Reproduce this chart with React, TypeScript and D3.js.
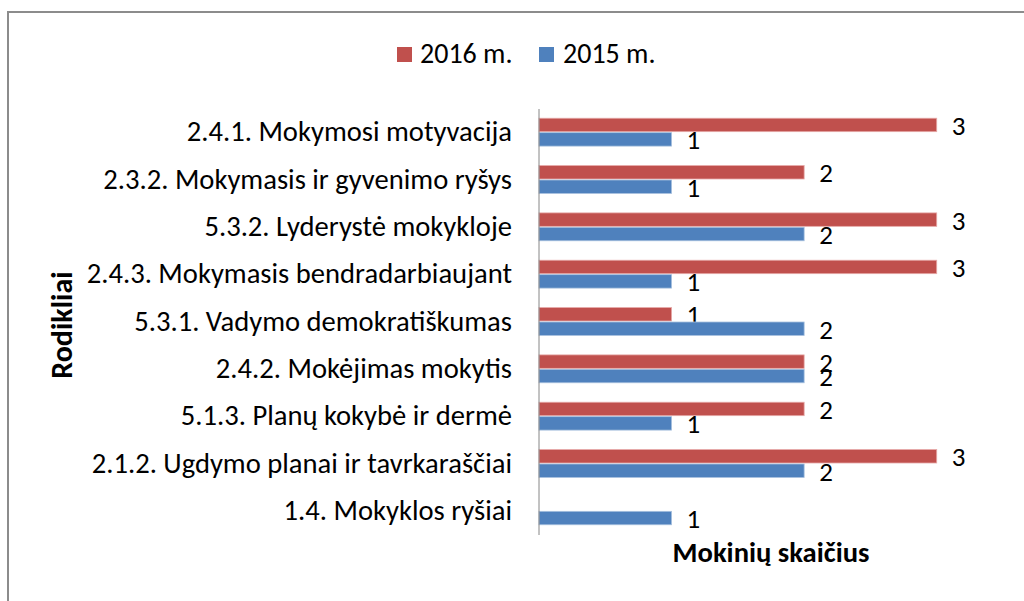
import React from "react";
import * as d3 from "d3";

const categories = [
  "2.4.1. Mokymosi motyvacija",
  "2.3.2. Mokymasis ir gyvenimo ryšys",
  "5.3.2. Lyderystė mokykloje",
  "2.4.3. Mokymasis bendradarbiaujant",
  "5.3.1. Vadymo demokratiškumas",
  "2.4.2. Mokėjimas mokytis",
  "5.1.3. Planų kokybė ir dermė",
  "2.1.2. Ugdymo planai ir tavrkaraščiai",
  "1.4. Mokyklos ryšiai",
];
const values2016: (number | null)[] = [3, 2, 3, 3, 1, 2, 2, 3, null];
const values2015: (number | null)[] = [1, 1, 2, 1, 2, 2, 1, 2, 1];
const seriesNames = ["2016 m.", "2015 m."];
const seriesColors = ["#C0504D", "#4F81BD"];
const xTitle = "Mokinių skaičius";
const yTitle = "Rodikliai";

const FONT = "Carlito, Calibri, Lato, sans-serif";

export default function App() {
  const W = 1024;
  const H = 601;
  const plotLeft = 539;
  const plotRight = 1003;
  const plotTop = 109;
  const plotBottom = 535;

  const x = d3.scaleLinear().domain([0, 3.5]).range([plotLeft, plotRight]);
  const y = d3
    .scaleBand<string>()
    .domain(categories)
    .range([plotTop, plotBottom])
    .paddingInner(0.39)
    .paddingOuter(0.195);
  const inner = d3
    .scaleBand<string>()
    .domain(seriesNames)
    .range([0, y.bandwidth()]);

  const series = [values2016, values2015];

  return (
    <svg
      width={W}
      height={H}
      style={{ position: "absolute", left: 0, top: 0, background: "#fff" }}
      fontFamily={FONT}
    >
      <rect x={0} y={0} width={W} height={H} fill="#fff" />
      <rect x={8} y={12} width={1040} height={620} fill="none" stroke="#8c8c8c" strokeWidth={2} />

      {/* legend */}
      <g>
        <rect x={397} y={47} width={15} height={15} fill={seriesColors[0]} />
        <text x={420} y={63} fontSize={28} fill="#000">{seriesNames[0]}</text>
        <rect x={539} y={47} width={15} height={15} fill={seriesColors[1]} />
        <text x={563} y={63} fontSize={28} fill="#000">{seriesNames[1]}</text>
      </g>

      {/* bars */}
      {categories.map((c, i) => (
        <g key={c}>
          {series.map((vals, s) => {
            const v = vals[i];
            if (v === null) return null;
            const by = (y(c) as number) + (inner(seriesNames[s]) as number);
            const bh = inner.bandwidth();
            return (
              <g key={s}>
                <rect
                  x={x(0)}
                  y={by}
                  width={x(v) - x(0)}
                  height={bh - 1}
                  fill={seriesColors[s]}
                  stroke={s === 0 ? "#e6a9a7" : "#a7c0de"}
                  strokeWidth={0.8}
                />
                <text x={x(v) + 15} y={by + bh / 2 + 9.5} fontSize={27} fill="#000">
                  {v}
                </text>
              </g>
            );
          })}
          <text
            x={512}
            y={(y(c) as number) + y.bandwidth() / 2 + 8.5}
            fontSize={28.6}
            textAnchor="end"
            fill="#000"
          >
            {c}
          </text>
        </g>
      ))}

      {/* axis line */}
      <line x1={x(0)} x2={x(0)} y1={plotTop} y2={plotBottom} stroke="#868686" strokeWidth={1} />

      {/* titles */}
      <text
        x={(plotLeft + plotRight) / 2}
        y={562}
        fontSize={28.6}
        fontWeight="bold"
        textAnchor="middle"
        fill="#000"
      >
        {xTitle}
      </text>
      <text
        transform={`translate(72, 325) rotate(-90)`}
        fontSize={30}
        fontWeight="bold"
        textAnchor="middle"
        fill="#000"
      >
        {yTitle}
      </text>
    </svg>
  );
}
